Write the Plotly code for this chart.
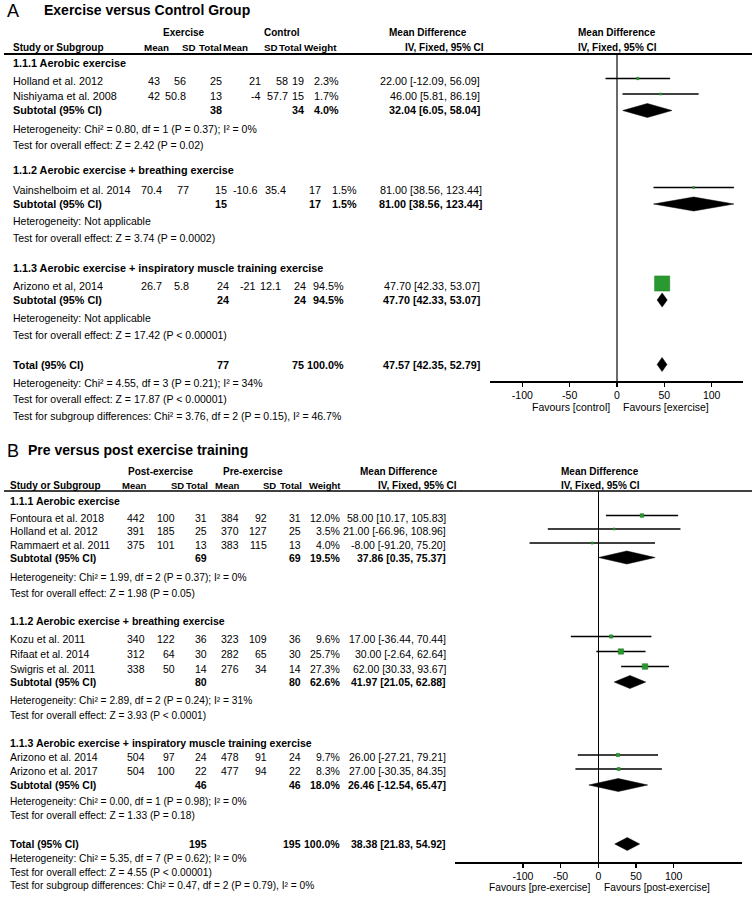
import math
import plotly.graph_objects as go

W, H = 752, 900
FONT = "Liberation Sans, Arial, sans-serif"
GREEN = "#2a9a30"
GREEN_EDGE = "#1f7f25"

# ================= DATA: Panel A (Exercise versus Control Group) =================
a_title = "Exercise versus Control Group"
a_groups = ["1.1.1 Aerobic exercise",
            "1.1.2 Aerobic exercise + breathing exercise",
            "1.1.3 Aerobic exercise + inspiratory muscle training exercise"]
a_study = ["Holland et al. 2012", "Nishiyama et al. 2008", "Vainshelboim et al. 2014", "Arizono et al, 2014"]
a_gidx = [0, 0, 1, 2]
a_ex_mean = [43, 42, 70.4, 26.7]
a_ex_sd = [56, 50.8, 77, 5.8]
a_ex_n = [25, 13, 15, 24]
a_ct_mean = [21, -4, -10.6, -21]
a_ct_sd = [58, 57.7, 35.4, 12.1]
a_ct_n = [19, 15, 17, 24]
a_weight = [2.3, 1.7, 1.5, 94.5]
a_md = [22.00, 46.00, 81.00, 47.70]
a_lo = [-12.09, 5.81, 38.56, 42.33]
a_hi = [56.09, 86.19, 123.44, 53.07]
a_sub_ex_n = [38, 15, 24]
a_sub_ct_n = [34, 17, 24]
a_sub_weight = [4.0, 1.5, 94.5]
a_sub_md = [32.04, 81.00, 47.70]
a_sub_lo = [6.05, 38.56, 42.33]
a_sub_hi = [58.04, 123.44, 53.07]
a_sub_het = ["Heterogeneity: Chi² = 0.80, df = 1 (P = 0.37); I² = 0%",
             "Heterogeneity: Not applicable",
             "Heterogeneity: Not applicable"]
a_sub_z = ["Test for overall effect: Z = 2.42 (P = 0.02)",
           "Test for overall effect: Z = 3.74 (P = 0.0002)",
           "Test for overall effect: Z = 17.42 (P &lt; 0.00001)"]
a_tot_ex_n, a_tot_ct_n, a_tot_weight = 77, 75, 100.0
a_tot_md, a_tot_lo, a_tot_hi = 47.57, 42.35, 52.79
a_tot_het = "Heterogeneity: Chi² = 4.55, df = 3 (P = 0.21); I² = 34%"
a_tot_z = "Test for overall effect: Z = 17.87 (P &lt; 0.00001)"
a_subdiff = "Test for subgroup differences: Chi² = 3.76, df = 2 (P = 0.15), I² = 46.7%"
a_arms = ["Exercise", "Control"]
a_fav = ["Favours [control]", "Favours [exercise]"]

# ================= DATA: Panel B (Pre versus post exercise training) =================
b_title = "Pre versus post exercise training"
b_groups = ["1.1.1 Aerobic exercise",
            "1.1.2 Aerobic exercise + breathing exercise",
            "1.1.3 Aerobic exercise + inspiratory muscle training exercise"]
b_study = ["Fontoura et al. 2018", "Holland et al. 2012", "Rammaert et al. 2011",
           "Kozu et al. 2011", "Rifaat et al. 2014", "Swigris et al. 2011",
           "Arizono et al. 2014", "Arizono et al. 2017"]
b_gidx = [0, 0, 0, 1, 1, 1, 2, 2]
b_post_mean = [442, 391, 375, 340, 312, 338, 504, 504]
b_post_sd = [100, 185, 101, 122, 64, 50, 97, 100]
b_post_n = [31, 25, 13, 36, 30, 14, 24, 22]
b_pre_mean = [384, 370, 383, 323, 282, 276, 478, 477]
b_pre_sd = [92, 127, 115, 109, 65, 34, 91, 94]
b_pre_n = [31, 25, 13, 36, 30, 14, 24, 22]
b_weight = [12.0, 3.5, 4.0, 9.6, 25.7, 27.3, 9.7, 8.3]
b_md = [58.00, 21.00, -8.00, 17.00, 30.00, 62.00, 26.00, 27.00]
b_lo = [10.17, -66.96, -91.20, -36.44, -2.64, 30.33, -27.21, -30.35]
b_hi = [105.83, 108.96, 75.20, 70.44, 62.64, 93.67, 79.21, 84.35]
b_sub_post_n = [69, 80, 46]
b_sub_pre_n = [69, 80, 46]
b_sub_weight = [19.5, 62.6, 18.0]
b_sub_md = [37.86, 41.97, 26.46]
b_sub_lo = [0.35, 21.05, -12.54]
b_sub_hi = [75.37, 62.88, 65.47]
b_sub_het = ["Heterogeneity: Chi² = 1.99, df = 2 (P = 0.37); I² = 0%",
             "Heterogeneity: Chi² = 2.89, df = 2 (P = 0.24); I² = 31%",
             "Heterogeneity: Chi² = 0.00, df = 1 (P = 0.98); I² = 0%"]
b_sub_z = ["Test for overall effect: Z = 1.98 (P = 0.05)",
           "Test for overall effect: Z = 3.93 (P &lt; 0.0001)",
           "Test for overall effect: Z = 1.33 (P = 0.18)"]
b_tot_post_n, b_tot_pre_n, b_tot_weight = 195, 195, 100.0
b_tot_md, b_tot_lo, b_tot_hi = 38.38, 21.83, 54.92
b_tot_het = "Heterogeneity: Chi² = 5.35, df = 7 (P = 0.62); I² = 0%"
b_tot_z = "Test for overall effect: Z = 4.55 (P &lt; 0.00001)"
b_subdiff = "Test for subgroup differences: Chi² = 0.47, df = 2 (P = 0.79), I² = 0%"
b_arms = ["Post-exercise", "Pre-exercise"]
b_fav = ["Favours [pre-exercise]", "Favours [post-exercise]"]

# shared tick labels / header labels
tick_vals = [-100, -50, 0, 50, 100]
tick_text = ["-100", "-50", "0", "50", "100"]
col_heads = ["Mean", "SD", "Total", "Mean", "SD", "Total", "Weight"]
md_head = ["Mean Difference", "IV, Fixed, 95% CI"]

# ================= LAYOUT (pixel positions) =================
A = dict(
    left=12, letter_x=6, title_x=43,
    title_y=10, head1_y=32, head2_y=47.5, line_y=54,
    group_y=[63, 170, 268], study_y=[80.5, 96, 189.5, 285.5],
    sub_y=[110.5, 204, 300], het_y=[129, 221, 318], z_y=[145, 238, 335],
    tot_y=364.5, tot_het_y=383, tot_z_y=399, subdiff_y=416,
    cols=[[161, 187, 223, 262, 289, 305, 340],
          [163, 190, 228, 259, 287, 322, 358],
          [163, 190, 230, 257, 282, 307, 345]],
    tot_cols=[163, 190, 230, 257, 282, 305, 345],
    ci_right=[481, 483, 481],
    head_cols=[170, 197, 223, 249, 279, 303, 338],
    arm_x=[184, 282], mdhead_x=[428, 444], forest_x=617,
    axis_y=381, px0=490, px1=743, zero_px=617, ppu=0.947,
    fav_y=407, fs=10.8, fs_small=10.5, fs_head=10, fs_head2=9.8, fs_tick=10.5, fs_fav=10.5,
    box_k=1.55, dia_h=7,
)
B = dict(
    left=9, letter_x=6, title_x=27,
    title_y=450, head1_y=471, head2_y=485.5, line_y=491,
    group_y=[501, 621, 743], study_y=[517.5, 531, 545, 638.5, 653.5, 668.5, 757, 771],
    sub_y=[557.5, 682, 785], het_y=[577, 700, 801], z_y=[593, 715, 815],
    tot_y=844, tot_het_y=858, tot_z_y=872, subdiff_y=885.5,
    cols=[[146, 176, 208, 240, 268, 302, 341]] * 3,
    tot_cols=[146, 176, 208, 240, 268, 302, 341],
    ci_right=[447, 447, 447],
    head_cols=[147, 185, 209, 240, 277, 303, 342],
    arm_x=[160, 253], mdhead_x=[399, 417], forest_x=600,
    axis_y=862, px0=455, px1=742, zero_px=598.3, ppu=0.754,
    fav_y=887, fs=10.5, fs_small=10.2, fs_head=10, fs_head2=9.5, fs_tick=10.5, fs_fav=10.2,
    box_k=1.05, dia_h=6.5,
)

ann = []


def txt(x, y, s, anchor="left", size=11, bold=False, color="black"):
    ann.append(dict(x=x / W, y=1 - y / H, xref="paper", yref="paper",
                    text=f"<b>{s}</b>" if bold else s, xanchor=anchor, yanchor="middle",
                    showarrow=False, borderpad=0,
                    font=dict(family=FONT, size=size, color=color)))


def fnum(v):
    return f"{v:g}"


def fci(md, lo, hi):
    return f"{md:.2f} [{lo:.2f}, {hi:.2f}]"


fig = go.Figure()


def panel(L, letter, title, groups, study, gidx, m1, s1, n1, m2, s2, n2, wt, md, lo, hi,
          sn1, sn2, sw, smd, slo, shi, shet, sz, tn1, tn2, tw, tmd, tlo, thi, thet, tz, sdiff,
          arms, fav, xa, ya):
    fs, fsm, fh, fh2 = L["fs"], L["fs_small"], L["fs_head"], L["fs_head2"]
    x0 = L["left"]
    # titles
    txt(L["letter_x"], L["title_y"] + 1, letter, size=18)
    txt(L["title_x"], L["title_y"], title, size=14, bold=True)
    # headers
    for k, a in enumerate(arms):
        txt(L["arm_x"][k], L["head1_y"], a, "center", fh, True)
    txt(L["mdhead_x"][0], L["head1_y"], md_head[0], "center", fh, True)
    txt(L["mdhead_x"][1], L["head2_y"], md_head[1], "center", fh, True)
    txt(L["forest_x"], L["head1_y"], md_head[0], "center", fh, True)
    txt(L["forest_x"], L["head2_y"], md_head[1], "center", fh, True)
    txt(x0, L["head2_y"], "Study or Subgroup", "left", fh, True)
    for k, h in enumerate(col_heads):
        txt(L["head_cols"][k], L["head2_y"], h, "right", fh2, True)
    # studies
    for i, name in enumerate(study):
        g = gidx[i]
        c = L["cols"][g]
        y = L["study_y"][i]
        txt(x0, y, name, "left", fs)
        vals = [fnum(m1[i]), fnum(s1[i]), fnum(n1[i]), fnum(m2[i]), fnum(s2[i]), fnum(n2[i]),
                f"{wt[i]:.1f}%"]
        for k, v in enumerate(vals):
            txt(c[k], y, v, "right", fs)
        txt(L["ci_right"][g], y, fci(md[i], lo[i], hi[i]), "right", fs)
    # subgroups
    for g, gname in enumerate(groups):
        c = L["cols"][g]
        txt(x0, L["group_y"][g], gname, "left", fs, True)
        y = L["sub_y"][g]
        txt(x0, y, "Subtotal (95% CI)", "left", fs, True)
        txt(c[2], y, fnum(sn1[g]), "right", fs, True)
        txt(c[5], y, fnum(sn2[g]), "right", fs, True)
        txt(c[6], y, f"{sw[g]:.1f}%", "right", fs, True)
        txt(L["ci_right"][g], y, fci(smd[g], slo[g], shi[g]), "right", fs, True)
        txt(x0, L["het_y"][g], shet[g], "left", fsm)
        txt(x0, L["z_y"][g], sz[g], "left", fsm)
    # total
    c = L["tot_cols"]
    y = L["tot_y"]
    txt(x0, y, "Total (95% CI)", "left", fs, True)
    txt(c[2], y, fnum(tn1), "right", fs, True)
    txt(c[5], y, fnum(tn2), "right", fs, True)
    txt(c[6], y, f"{tw:.1f}%", "right", fs, True)
    txt(L["ci_right"][2], y, fci(tmd, tlo, thi), "right", fs, True)
    txt(x0, L["tot_het_y"], thet, "left", fsm)
    txt(x0, L["tot_z_y"], tz, "left", fsm)
    txt(x0, L["subdiff_y"], sdiff, "left", fsm)
    # favours labels
    txt(L["zero_px"] - 6, L["fav_y"], fav[0], "right", L["fs_fav"])
    txt(L["zero_px"] + 5, L["fav_y"], fav[1], "left", L["fs_fav"])

    # forest: confidence-interval whiskers (drawn first, under the boxes)
    ys = [L["study_y"][i] - 2 for i in range(len(study))]
    wx, wy = [], []
    for l, h, y in zip(lo, hi, ys):
        wx += [l, h, None]
        wy += [y, y, None]
    fig.add_trace(go.Scatter(x=wx, y=wy, mode="lines", xaxis=xa, yaxis=ya, showlegend=False,
                             hoverinfo="skip", line=dict(color="black", width=1.6)))
    # weighted boxes
    fig.add_trace(go.Scatter(
        x=md, y=ys, mode="markers", xaxis=xa, yaxis=ya, showlegend=False, hoverinfo="skip",
        marker=dict(symbol="square", color=GREEN, opacity=1,
                    line=dict(width=0.6, color=GREEN_EDGE),
                    size=[L["box_k"] * math.sqrt(w) for w in wt])))
    # diamonds (subtotals + total)
    dh = L["dia_h"]
    dlist = [(smd[g], slo[g], shi[g], L["sub_y"][g]) for g in range(len(groups))]
    dlist.append((tmd, tlo, thi, L["tot_y"]))
    for m, l, h, y in dlist:
        fig.add_trace(go.Scatter(
            x=[l, m, h, m, l], y=[y, y - dh, y, y + dh, y], mode="lines", fill="toself",
            fillcolor="black", line=dict(color="black", width=0.5),
            xaxis=xa, yaxis=ya, showlegend=False, hoverinfo="skip"))


panel(A, "A", a_title, a_groups, a_study, a_gidx, a_ex_mean, a_ex_sd, a_ex_n, a_ct_mean, a_ct_sd,
      a_ct_n, a_weight, a_md, a_lo, a_hi, a_sub_ex_n, a_sub_ct_n, a_sub_weight, a_sub_md, a_sub_lo,
      a_sub_hi, a_sub_het, a_sub_z, a_tot_ex_n, a_tot_ct_n, a_tot_weight, a_tot_md, a_tot_lo,
      a_tot_hi, a_tot_het, a_tot_z, a_subdiff, a_arms, a_fav, "x", "y")
panel(B, "B", b_title, b_groups, b_study, b_gidx, b_post_mean, b_post_sd, b_post_n, b_pre_mean,
      b_pre_sd, b_pre_n, b_weight, b_md, b_lo, b_hi, b_sub_post_n, b_sub_pre_n, b_sub_weight,
      b_sub_md, b_sub_lo, b_sub_hi, b_sub_het, b_sub_z, b_tot_post_n, b_tot_pre_n, b_tot_weight,
      b_tot_md, b_tot_lo, b_tot_hi, b_tot_het, b_tot_z, b_subdiff, b_arms, b_fav, "x2", "y2")


def xaxis_for(L, anchor, zc):
    return dict(domain=[L["px0"] / W, L["px1"] / W],
                range=[(L["px0"] - L["zero_px"]) / L["ppu"], (L["px1"] - L["zero_px"]) / L["ppu"]],
                anchor=anchor, showgrid=False, zeroline=True, zerolinecolor=zc, zerolinewidth=1.5,
                showline=True, linecolor="black", linewidth=1.5,
                ticks="outside", ticklen=4, tickwidth=1.5, tickcolor="black",
                tickvals=tick_vals, ticktext=tick_text,
                tickfont=dict(family=FONT, size=L["fs_tick"], color="black"), fixedrange=True)


def yaxis_for(L):
    return dict(domain=[1 - L["axis_y"] / H, 1 - L["line_y"] / H],
                range=[L["axis_y"], L["line_y"]], visible=False, showgrid=False,
                zeroline=False, fixedrange=True)


shapes = [
    dict(type="line", xref="paper", yref="paper", x0=4 / W, x1=1, y0=1 - A["line_y"] / H,
         y1=1 - A["line_y"] / H, line=dict(color="black", width=2)),
    dict(type="line", xref="paper", yref="paper", x0=4 / W, x1=1, y0=1 - B["line_y"] / H,
         y1=1 - B["line_y"] / H, line=dict(color="black", width=1.6)),
]

fig.update_layout(
    width=W, height=H, margin=dict(l=0, r=0, t=0, b=0),
    paper_bgcolor="white", plot_bgcolor="rgba(0,0,0,0)",
    xaxis=xaxis_for(A, "y", "#6a6a6a"), yaxis=yaxis_for(A),
    xaxis2=xaxis_for(B, "y2", "black"), yaxis2=yaxis_for(B),
    annotations=ann, shapes=shapes, showlegend=False,
    font=dict(family=FONT, color="black"),
)

fig.write_html("out.html", config={"displayModeBar": False, "staticPlot": True},
               post_script="document.body.style.margin='0px';document.body.style.padding='0px';")
